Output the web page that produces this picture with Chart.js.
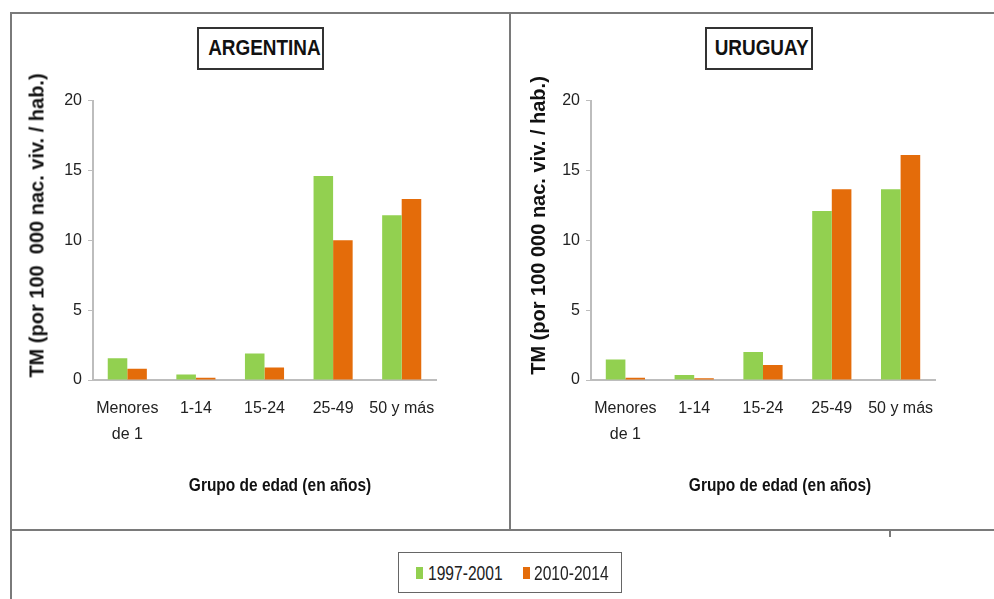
<!DOCTYPE html>
<html>
<head>
<meta charset="utf-8">
<script src="https://cdn.jsdelivr.net/npm/chart.js@4.4.1/dist/chart.umd.min.js"></script>
<style>
  body { margin: 0; background: #fff; width: 994px; height: 599px; overflow: hidden; position: relative;
         font-family: 'Liberation Sans', Arial, sans-serif; }
  .line { position: absolute; background: #7a7a7a; }
  .panel { position: absolute; }
  .title { position: absolute; border: 2px solid #333; box-sizing: border-box; text-align: center;
           font-weight: bold; font-size: 22px; color: #111; line-height: 38px; white-space: nowrap; }
  .title span, .xt span { display: inline-block; transform: scaleX(0.86); }
  .xt { position: absolute; width: 300px; text-align: center; font-weight: bold; font-size: 18px; color: #111; white-space: nowrap; }
  .yt { position: absolute; width: 360px; text-align: center; font-weight: bold; font-size: 20px; color: #111;
        white-space: pre; transform: rotate(-90deg); transform-origin: center center; }
  #legend { position: absolute; left: 398px; top: 552px; width: 224px; height: 41px; border: 1px solid #666; box-sizing: border-box; }
  .sw { position: absolute; top: 14px; width: 7px; height: 12px; }
  .lt { position: absolute; top: 8px; font-size: 20px; line-height: 24px; color: #222; white-space: nowrap;
        transform: scaleX(0.78); transform-origin: left center; }
</style>
</head>
<body>
<!-- marco -->
<div class="line" style="left:10px;top:12px;width:984px;height:2px"></div>
<div class="line" style="left:10px;top:12px;width:2px;height:587px"></div>
<div class="line" style="left:509px;top:12px;width:2px;height:518px"></div>
<div class="line" style="left:10px;top:529px;width:984px;height:2px"></div>
<div class="line" style="left:889px;top:531px;width:2px;height:6px"></div>

<div class="title" style="left:197px;top:27px;width:127px;height:43px"><span>ARGENTINA</span></div>
<div class="title" style="left:705px;top:27px;width:108px;height:43px"><span>URUGUAY</span></div>

<div class="panel" style="left:14px;top:85px;width:490px;height:430px"><canvas id="arg"></canvas></div>
<div class="panel" style="left:520px;top:85px;width:470px;height:430px"><canvas id="uru"></canvas></div>

<div class="xt" style="left:130px;top:475px"><span>Grupo de edad (en años)</span></div>
<div class="xt" style="left:630px;top:475px"><span>Grupo de edad (en años)</span></div>
<div class="yt" style="left:-143px;top:214px">TM (por 100  000 nac. viv. / hab.)</div>
<div class="yt" style="left:358px;top:214px">TM (por 100 000 nac. viv. / hab.)</div>

<div id="legend">
  <span class="sw" style="left:17px;background:#92D050"></span><span class="lt" style="left:29px">1997-2001</span>
  <span class="sw" style="left:124px;background:#E46C0A"></span><span class="lt" style="left:135px">2010-2014</span>
</div>

<script>
// datos
const grupos = [['Menores', 'de 1'], '1-14', '15-24', '25-49', '50 y más'];
const series = ['1997-2001', '2010-2014'];
const argentina_9701 = [1.55, 0.4, 1.9, 14.6, 11.8];
const argentina_1014 = [0.8, 0.17, 0.9, 10.0, 12.95];
const uruguay_9701 = [1.47, 0.36, 2.0, 12.1, 13.65];
const uruguay_1014 = [0.17, 0.12, 1.07, 13.65, 16.1];
const yTicks = [0, 5, 10, 15, 20];

const verde = '#92D050';
const naranja = '#E46C0A';
const fuente = "'Liberation Sans', Arial, sans-serif";

function make_chart(id, d1, d2, yWidth, padRight) {
  const config = {
    type: 'bar',
    data: {
      labels: grupos,
      datasets: [
        { label: series[0], data: d1, backgroundColor: verde, barPercentage: 1.0, categoryPercentage: 0.57 },
        { label: series[1], data: d2, backgroundColor: naranja, barPercentage: 1.0, categoryPercentage: 0.57 }
      ]
    },
    options: {
      responsive: true,
      maintainAspectRatio: false,
      animation: false,
      layout: { padding: { top: 14, right: padRight, left: 0, bottom: 0 } },
      plugins: { legend: { display: false }, tooltip: { enabled: false } },
      scales: {
        x: {
          grid: { display: false, drawTicks: false },
          border: { color: '#bdbdbd', width: 2 },
          ticks: { color: '#222', padding: 16, font: { family: fuente, size: 16, lineHeight: 1.6 }, maxRotation: 0, autoSkip: false },
          afterFit: s => { s.height = 135; }
        },
        y: {
          min: 0, max: 20,
          afterBuildTicks: s => { s.ticks = yTicks.map(v => ({ value: v })); },
          grid: { drawOnChartArea: false, tickLength: 5, color: '#bdbdbd' },
          border: { color: '#bdbdbd', width: 2 },
          ticks: { color: '#222', padding: 6, font: { family: fuente, size: 16 } },
          afterFit: s => { s.width = yWidth; }
        }
      }
    }
  };
  return new Chart(document.getElementById(id), config);
}

make_chart('arg', argentina_9701, argentina_1014, 79, 68);
make_chart('uru', uruguay_9701, uruguay_1014, 71, 55);
</script>
</body>
</html>
